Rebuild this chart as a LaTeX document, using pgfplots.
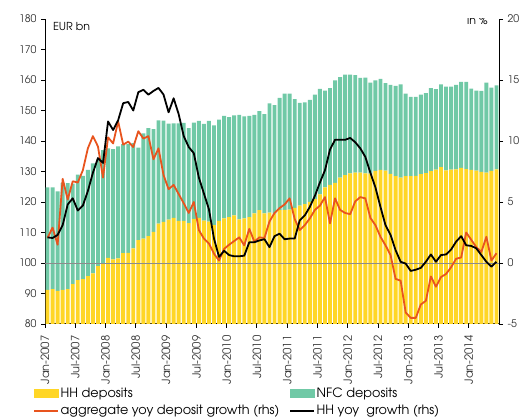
\documentclass[border=0pt]{standalone}
\usepackage{pgfplots}
\pgfplotsset{compat=1.18}
\usepackage{pgfplotstable}
\usepackage{fontspec}
\setmainfont{TeX Gyre Adventor}
\definecolor{hhy}{RGB}{255,214,38}
\definecolor{nfcg}{RGB}{112,201,166}
\definecolor{aggo}{RGB}{232,84,30}
\definecolor{ticktext}{RGB}{51,51,51}
\pgfplotstableread{
i hh nfc agg hhg
0 91.2 33.6 2.07 2.1
1 91.4 33.4 2.9 2.05
2 90.9 32.6 1.5 2.3
3 91.2 35.1 6.9 3.1
4 91.4 34.8 5.2 4.8
5 93.1 32.9 6.7 5.3
6 94.4 34.6 6.6 4.3
7 94.7 33.9 7.6 4.7
8 95.7 34.8 9.4 5.9
9 96.6 36.1 10.4 7.4
10 99.0 35.0 9.55 8.6
11 99.8 37.2 7.0 8.2
12 101.7 35.9 10.3 11.6
13 101.2 36.1 9.8 10.9
14 101.5 36.7 11.6 11.7
15 103.2 35.8 9.7 13.1
16 103.3 35.7 9.95 13.2
17 104.8 34.5 9.5 12.5
18 107.5 30.3 10.8 14.0
19 108.0 34.5 10.2 14.2
20 108.8 35.4 10.4 13.8
21 110.2 33.7 8.5 14.1
22 112.9 33.9 9.4 14.35
23 113.5 33.2 7.2 13.8
24 114.2 31.5 6.05 12.35
25 114.8 31.0 6.4 13.5
26 113.8 32.0 5.65 12.2
27 113.8 32.1 4.9 10.4
28 113.1 31.1 4.1 9.5
29 114.5 31.5 5.0 9.0
30 114.8 31.8 2.7 7.0
31 113.9 31.7 2.0 5.7
32 113.6 33.0 1.6 4.4
33 112.4 32.7 0.76 2.0
34 113.8 33.2 0.2 0.5
35 114.6 33.6 1.15 1.0
36 115.0 32.8 1.5 0.65
37 115.6 32.8 1.8 0.55
38 114.3 34.3 2.1 0.55
39 114.6 33.5 1.45 0.6
40 115.0 33.2 2.8 1.7
41 116.3 32.3 1.75 1.7
42 117.3 32.5 2.1 1.85
43 116.3 32.5 2.05 1.95
44 116.5 35.8 3.4 1.3
45 116.2 35.6 4.1 2.2
46 117.3 36.8 4.5 2.4
47 117.4 38.1 4.8 1.95
48 117.5 38.0 5.3 2.0
49 118.1 35.6 3.6 2.0
50 118.8 33.7 2.7 3.5
51 119.3 33.4 3.1 3.9
52 120.0 33.5 3.65 4.6
53 121.0 34.2 4.35 5.5
54 122.5 34.6 4.7 6.6
55 124.8 31.7 5.4 7.6
56 125.6 31.7 3.25 9.3
57 126.3 33.6 5.3 10.1
58 128.0 32.9 4.35 10.1
59 128.8 33.0 4.1 10.1
60 129.4 32.4 4.0 10.25
61 129.6 32.0 5.05 9.9
62 129.6 31.1 5.4 9.4
63 129.4 31.4 5.3 8.7
64 129.3 29.8 3.7 7.4
65 130.2 29.7 3.1 6.2
66 130.5 29.9 2.15 4.6
67 130.3 28.7 1.45 3.1
68 129.2 29.2 0.65 2.3
69 128.5 29.6 -1.3 1.05
70 128.0 30.6 -1.45 0.1
71 128.5 27.0 -4.05 -0.05
72 128.5 26.0 -4.5 -0.65
73 128.6 25.9 -4.5 -0.55
74 129.1 26.1 -3.4 -0.4
75 129.5 26.2 -3.1 0.1
76 130.1 27.2 -1.1 0.7
77 130.6 26.4 -1.95 0.1
78 131.4 27.2 -1.15 0.65
79 130.4 27.4 -0.9 0.7
80 130.6 27.2 -0.35 1.1
81 130.7 27.7 0.35 1.75
82 131.2 28.2 0.45 2.2
83 130.8 28.6 2.5 1.45
84 130.5 26.7 1.9 1.4
85 130.3 26.2 1.3 1.2
86 129.9 26.5 0.9 0.65
87 129.6 29.5 2.15 0.1
88 130.2 27.3 0.2 -0.3
89 130.7 27.5 0.8 0.1
}\data
\pgfplotsset{
  base/.style={
    at={(45pt,95pt)}, anchor=south west,
    scale only axis, width=454pt, height=305pt,
    xmin=-0.5, xmax=89.5,
    font=\fontsize{11}{13}\selectfont,
    tick label style={font=\fontsize{10.5}{12}\selectfont, text=ticktext},
    /pgf/number format/assume math mode=true,
    tick align=outside, major tick length=4pt,
    tick style={black, line width=0.8pt},
    axis line style={black, line width=1pt},
  }
}
\begin{document}
\begin{tikzpicture}
\useasboundingbox (0pt,0pt) rectangle (524pt,419pt);
\begin{axis}[base,
  ymin=80, ymax=180, ytick={80,90,...,180},
  axis x line*=bottom, axis y line*=left,
  ybar stacked, bar width=3.9pt,
  xtick={-0.5,5.5,11.5,17.5,23.5,29.5,35.5,41.5,47.5,53.5,59.5,65.5,71.5,77.5,83.5},
  xticklabels={Jan-2007,Jul-2007,Jan-2008,Jul-2008,Jan-2009,Jul-2009,Jan-2010,Jul-2010,Jan-2011,Jul-2011,Jan-2012,Jul-2012,Jan-2013,Jul-2013,Jan-2014},
  xticklabel style={rotate=90, anchor=east, font=\fontsize{11.3}{13}\selectfont},
  xticklabel shift=4pt,
  yticklabel style={xshift=-1pt},
]
\addplot[fill=hhy, draw=none] table[x=i, y=hh] {\data};
\addplot[fill=nfcg, draw=none] table[x=i, y=nfc] {\data};
\node[anchor=west, font=\fontsize{11}{13}\selectfont] at (axis description cs:0.01,0.974) {EUR bn};
\end{axis}
\begin{axis}[base,
  ymin=-5, ymax=20, ytick={-5,0,...,20},
  axis y line*=right, axis x line=none,
  yticklabel style={xshift=1pt},
  legend columns=2,
  legend style={at={(axis description cs:0,0)}, anchor=north west, xshift=-12pt, yshift=-62pt,
    draw=none, fill=none, inner sep=0pt, row sep=3.5pt,
    font=\fontsize{12.8}{14}\selectfont,
    nodes={inner sep=1.5pt}},
  legend cell align=left,
]
\addplot[black!45, line width=0.8pt, forget plot] coordinates {(-0.5,0) (89.5,0)};
\addlegendimage{legend image code/.code={\fill[hhy] (0pt,-4pt) rectangle (24pt,4pt);}}
\addlegendentry{\makebox[227pt][l]{HH deposits}}
\addlegendimage{legend image code/.code={\fill[nfcg] (0pt,-4pt) rectangle (24pt,4pt);}}
\addlegendentry{NFC deposits}
\addplot[aggo, line width=1.8pt, line join=round, legend image code/.code={\draw[line width=2pt] (0pt,0pt) -- (24pt,0pt);}] table[x=i, y=agg] {\data};
\addlegendentry{\makebox[227pt][l]{aggregate yoy deposit growth (rhs)}}
\addplot[black, line width=1.8pt, line join=round, legend image code/.code={\draw[line width=2pt] (0pt,0pt) -- (24pt,0pt);}] table[x=i, y=hhg] {\data};
\addlegendentry{HH yoy\ \ growth (rhs)}
\node[anchor=west, font=\fontsize{11}{13}\selectfont] at (axis description cs:0.922,0.995) {in \%};
\end{axis}
\end{tikzpicture}
\end{document}
